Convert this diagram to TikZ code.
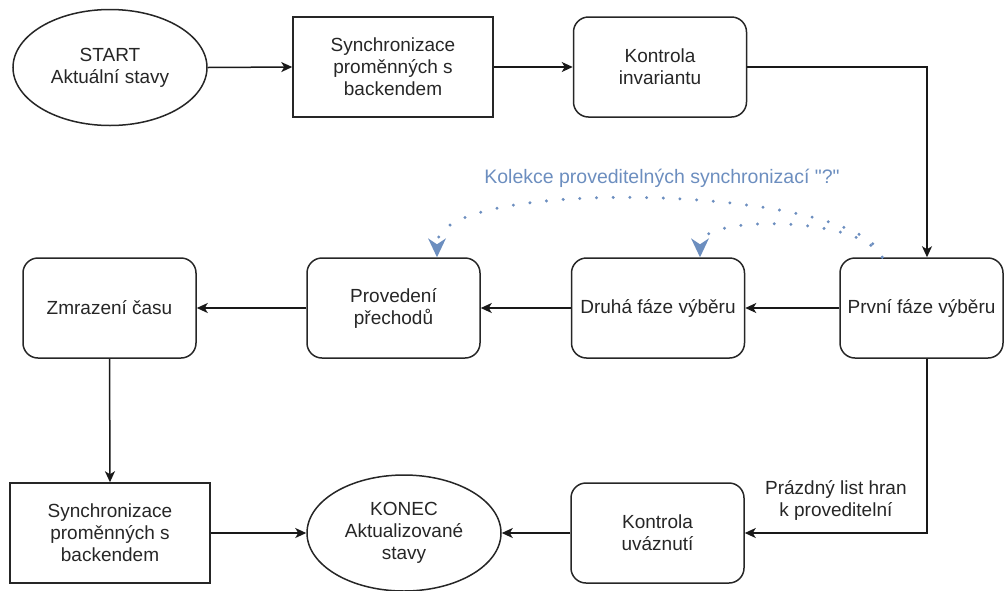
\documentclass[tikz,border=0pt]{standalone}
\usepackage{fontspec}
\setmainfont{Liberation Sans}
\newfontfamily\plainfont{Liberation Sans}
\usepackage{xcolor}
\usetikzlibrary{shapes.geometric, arrows.meta, calc}
\definecolor{dioblue}{HTML}{6C8EBF}
\tikzset{
	base/.style={draw=black!85, line width=1.5pt, text=black!85, align=center,
		inner sep=0pt, font=\fontsize{19}{22}\selectfont},
	rbox/.style={base, rounded corners=15pt, minimum width=173pt, minimum height=100pt},
	sbox/.style={base, rectangle, minimum width=200pt, minimum height=100pt},
	term/.style={base, ellipse, minimum width=194pt, minimum height=116pt},
	arr/.style={draw=black!90, line width=1.5pt, -{Stealth[length=11pt, width=10pt, inset=3pt]}},
	dotarr/.style={draw=dioblue, line width=3.3pt, line cap=round, dash pattern=on 0pt off 16.7pt,
		-{Stealth[length=19pt, width=18pt, inset=6pt, line width=0pt]}},
}

\begin{document}
\begin{tikzpicture}[x=1pt, y=-1pt]
		\useasboundingbox (0,0) rectangle (1004,590);
		% first row
		\node[term] (start) at (110,67.5) {START\\Aktuální stavy};
		\node[sbox] (sync1) at (393,67) {Synchronizace\\proměnných s\\backendem};
		\node[rbox] (kinv) at (660,67) {Kontrola\\invariantu};
		% second row
		\node[rbox, minimum width=163pt] (prvni) at (921.5,308) {První fáze výběru};
		\node[rbox] (druha) at (658,308) {Druhá fáze výběru};
		\node[rbox] (proved) at (393.5,308) {Provedení\\přechodů};
		\node[rbox] (zmraz) at (109.5,308) {Zmrazení času};
		% third row
		\node[sbox] (sync2) at (110,533) {Synchronizace\\proměnných s\\backendem};
		\node[term] (konec) at (404,533) {KONEC\\Aktualizované\\stavy};
		\node[rbox] (kuvaz) at (657.5,533) {Kontrola\\uváznutí};
		% edges
		\draw[arr] (start.east) -- (sync1.west);
		\draw[arr] (sync1) -- (kinv);
		\draw[arr] (kinv.east) -| ($(prvni.north)+(5.5,0)$);
		\draw[arr] (prvni) -- (druha);
		\draw[arr] (druha) -- (proved);
		\draw[arr] (proved) -- (zmraz);
		\draw[arr] (zmraz.south) -- (sync2.north);
		\draw[arr] (sync2.east) -- (konec.west);
		\draw[arr] (kuvaz.west) -- (konec.east);
		\draw[arr] ($(prvni.south)+(5.5,0)$) |- (kuvaz.east)
			node[pos=0.75, above=8pt, font=\fontsize{19}{22}\selectfont, text=black!85, align=center]
			(prazdny) {Prázdný list hran\\k proveditelní};
		% dotted collection arrows
		\node[font=\plainfont\fontsize{19.5}{22}\selectfont, text=dioblue] (kolekce) at (662,178)
			{Kolekce proveditelných synchronizací "?"};
		\draw[dotarr] ($(prvni.north west)+(43,0)$) .. controls (860,185) and (437,175)
			.. ($(proved.north)+(43.5,0)$);
		\draw[dotarr] ($(prvni.north west)+(43,0)$) .. controls (860,215) and (700,215)
			.. ($(druha.north)+(42,0)$);
	\end{tikzpicture}
\end{document}
